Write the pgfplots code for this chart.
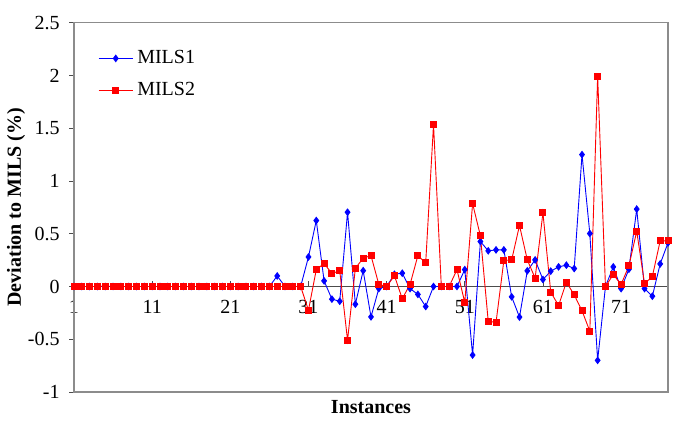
\documentclass[border=0pt]{standalone}
\usepackage{fontspec}
\setmainfont{Liberation Serif}
\usepackage{pgfplots}
\usepackage{pgfplotstable}
\pgfplotsset{compat=1.18}

% instance, MILS1, MILS2
\pgfplotstableread{
i a b
1 0 0
2 0 0
3 0 0
4 0 0
5 0 0.005
6 0 0
7 0 0
8 0 0
9 0 0
10 0 0
11 0 0
12 0 0
13 0 0
14 0 0
15 0 0
16 0 0
17 0 0
18 0 0
19 0 0
20 0 0
21 0 0
22 0 0
23 0 0
24 0 0
25 0 0
26 0 0
27 0.10 0
28 0 0
29 0 0
30 0 0
31 0.28 -0.225
32 0.625 0.16
33 0.053 0.218
34 -0.12 0.123
35 -0.14 0.15
36 0.704 -0.51
37 -0.168 0.173
38 0.15 0.268
39 -0.288 0.293
40 -0.02 0.02
41 0.0 0
42 0.116 0.102
43 0.126 -0.116
44 -0.02 0.02
45 -0.075 0.293
46 -0.19 0.224
47 0 1.535
48 0 0
49 0 0
50 0 0.16
51 0.16 -0.152
52 -0.65 0.786
53 0.426 0.48
54 0.338 -0.33
55 0.347 -0.34
56 0.347 0.246
57 -0.098 0.252
58 -0.29 0.578
59 0.148 0.252
60 0.252 0.079
61 0.066 0.698
62 0.145 -0.054
63 0.186 -0.18
64 0.202 0.041
65 0.17 -0.079
66 1.25 -0.23
67 0.502 -0.424
68 -0.70 1.993
69 0 0
70 0.186 0.113
71 -0.02 0.02
72 0.164 0.195
73 0.733 0.524
74 -0.02 0.025
75 -0.092 0.095
76 0.214 0.432
77 0.413 0.432
}\devtable

\begin{document}
\begin{tikzpicture}
\useasboundingbox (0,0) rectangle (345.5pt,211.5pt);
\begin{axis}[
    at={(37pt,15.5pt)}, anchor=south west,
    scale only axis,
    width=297pt, height=184.65pt,
    xmin=1, xmax=77,
    ymin=-1, ymax=2.5,
    axis x line*=middle,
    axis y line*=left,
    axis line style={gray!60!black, line width=0.5pt, -},
    hide obscured x ticks=false,
    xtick={1,11,...,71},
    ytick={-1,-0.5,...,2.5},
    xtick align=inside,
    ytick align=outside,
    major tick length=2.5pt,
    tick style={gray!60!black, line width=0.4pt},
    xticklabel style={yshift=-3.5pt},
    yticklabel style={xshift=-1.2pt},
    /pgf/number format/assume math mode=true,
    ticklabel style={font=\fontsize{10}{12}\selectfont},
    xlabel={\textbf{Instances}},
    ylabel={\textbf{Deviation to MILS (\%)}},
    xlabel style={at={(axis description cs:0.5,-0.0406)}, anchor=center},
    ylabel style={at={(axis description cs:-0.0976,0.5)}, anchor=center},
    legend style={at={(axis description cs:0.03,0.948)}, anchor=north west,
        draw=none, fill=none, row sep=4pt, font=\fontsize{10}{12}\selectfont},
    legend cell align=left,
    clip=false,
]
\draw[gray!90, line width=0.6pt] (rel axis cs:0,0) rectangle (rel axis cs:1,1);
\addplot[blue, line width=0.45pt, mark=diamond*, mark size=1.6pt, mark options={solid, fill=blue}]
  table[x=i, y=a] {\devtable};
\addplot[red, line width=0.45pt, mark=square*, mark size=1.5pt, mark options={solid, fill=red}]
  table[x=i, y=b] {\devtable};
\legend{MILS1, MILS2}
\end{axis}
\end{tikzpicture}
\end{document}
